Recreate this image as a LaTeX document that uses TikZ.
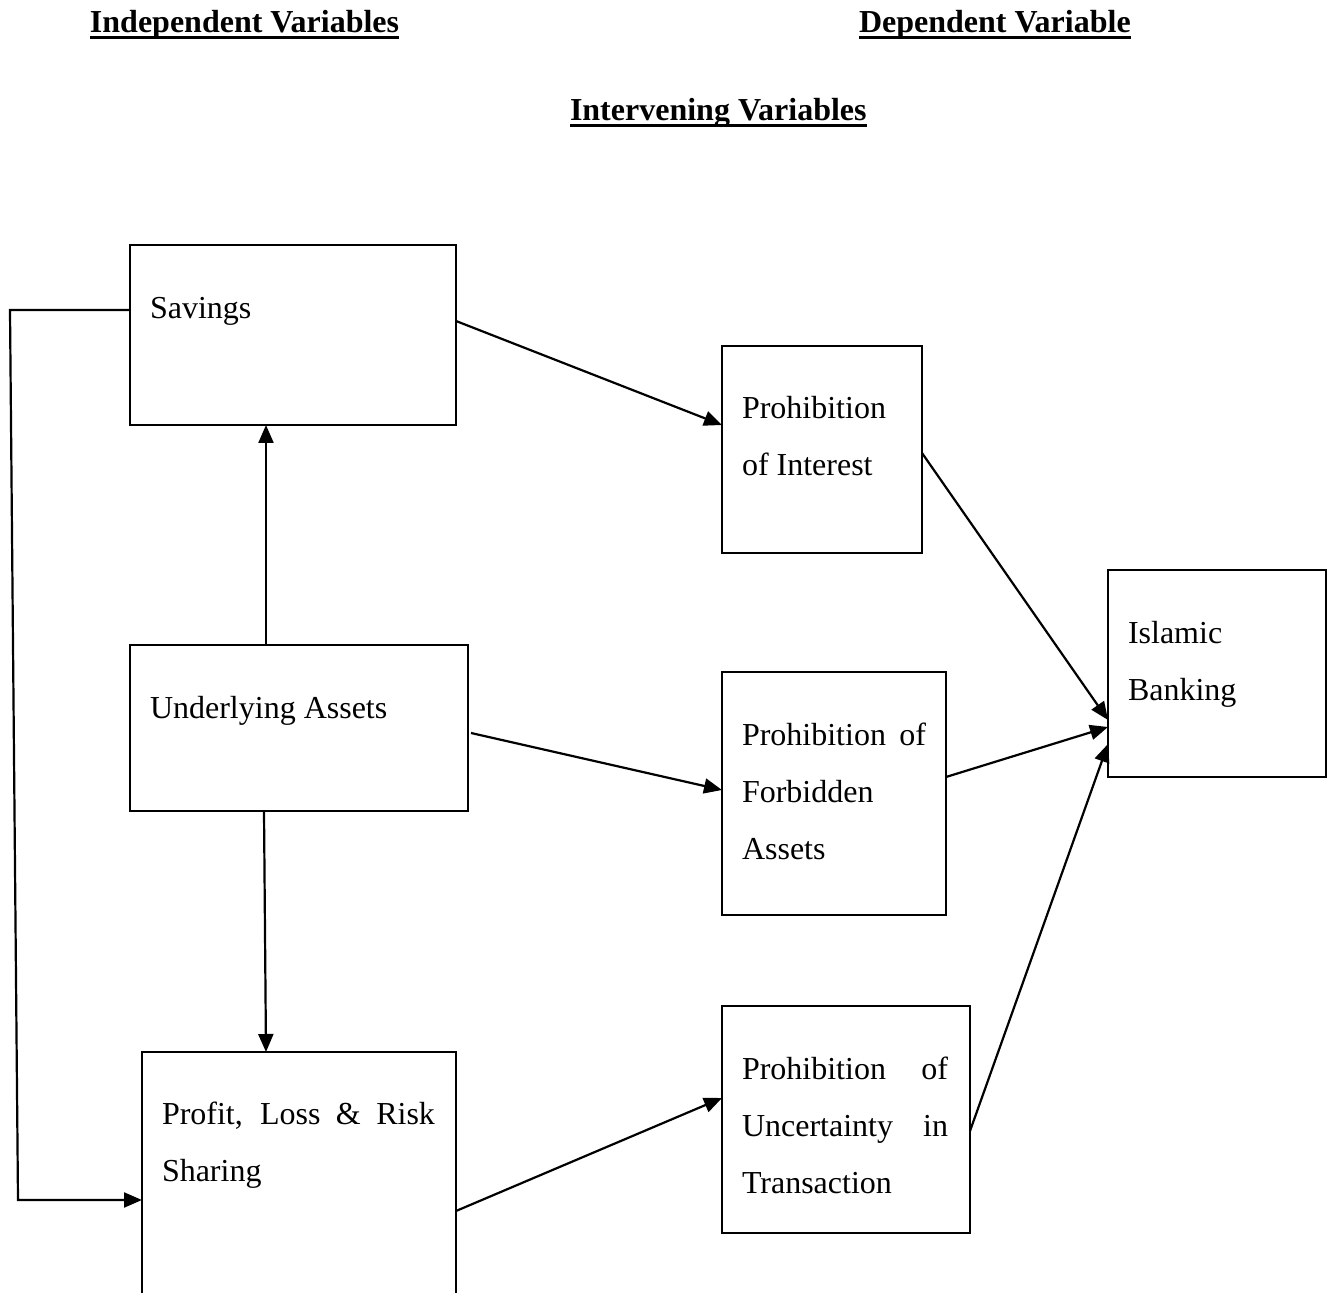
\documentclass[tikz,border=0pt]{standalone}
\usepackage{fontspec}
\setmainfont{Liberation Serif}
\usetikzlibrary{arrows.meta,calc}
\newcommand\myul[1]{\setbox0\hbox{#1}\rlap{\rule[-3.2pt]{\wd0}{1.8pt}}\box0}
\newcommand\mylines[1]{\parbox[t]{160pt}{\raggedright #1}}
\begin{document}
\begin{tikzpicture}[x=0.5pt, y=-0.5pt,
  font=\fontsize{16}{28.5}\selectfont,
  box/.style={draw, line width=1.1pt, inner sep=0pt, outer sep=0pt},
  txt/.style={anchor=base west, inner sep=0pt, outer sep=0pt},
  titletxt/.style={anchor=base west, inner sep=0pt, outer sep=0pt, font=\fontsize{16}{19}\selectfont\bfseries},
  conn/.style={line width=1.1pt, -{Triangle[length=9pt,width=7.5pt]}}]
\useasboundingbox (0,0) rectangle (1335,1293);

% titles
\node[titletxt] (tInd) at (90,33) {\myul{Independent Variables}};
\node[titletxt] (tDep) at (859,33) {\myul{Dependent Variable}};
\node[titletxt] (tInt) at (570,121) {\myul{Intervening Variables}};

% boxes
\node[box, minimum width=163pt, minimum height=90pt] (savings) at (293,335) {};
\node[box, minimum width=169pt, minimum height=83pt] (under) at (299,728) {};
\node[inner sep=0pt, outer sep=0pt, minimum width=157pt, minimum height=120.5pt] (profit) at (299,1172.5) {};
\draw[line width=1.1pt] (profit.south west) |- (profit.north east) -- (profit.south east);
\node[box, minimum width=100pt, minimum height=103.5pt] (interest) at (822,449.5) {};
\node[box, minimum width=112pt, minimum height=121.5pt] (forbidden) at (834,793.5) {};
\node[box, minimum width=124pt, minimum height=113.5pt] (uncert) at (846,1119.5) {};
\node[box, minimum width=109pt, minimum height=103.5pt] (islamic) at (1217,673.5) {};

% texts
\node[txt] (savingsT) at (150,319) {Savings};
\node[txt] (underT) at (150,719) {Underlying Assets};
\node[txt] (profitT) at (162,1125) {\mylines{\makebox[136.5pt][s]{Profit, Loss \& Risk}\\Sharing}};
\node[txt] (interestT) at (742,419) {\mylines{Prohibition\\of Interest}};
\node[txt] (forbiddenT) at (742,746) {\mylines{\makebox[92pt][s]{Prohibition of}\\Forbidden\\Assets}};
\node[txt] (uncertT) at (742,1080) {\mylines{\makebox[103pt][s]{Prohibition of}\\\makebox[103pt][s]{Uncertainty in}\\Transaction}};
\node[txt] (islamicT) at (1128,644) {\mylines{Islamic\\Banking}};

% connectors
\coordinate (fbA) at (10,310);
\coordinate (fbB) at (18,1200);
\draw[conn] ($(savings.east)+(0,-14)$) -- ($(interest.west)+(0,-24.5)$);
\draw[conn] ($(under.north)+(-33,0)$) -- ($(savings.south)+(-27,0)$);
\draw[conn] ($(under.south)+(-35,0)$) -- ($(profit.north)+(-33,0)$);
\draw[conn] ($(under.east)+(3,5)$) -- ($(forbidden.west)+(0,-3.5)$);
\draw[conn] ($(profit.east)+(0,38.5)$) -- ($(uncert.west)+(0,-21.5)$);
\draw[conn] ($(savings.west)+(0,-25)$) -- (fbA) -- (fbB) -- ($(profit.west)+(0,27.5)$);
\draw[conn] ($(interest.east)+(0,3.5)$) -- ($(islamic.west)+(0,46.5)$);
\draw[conn] ($(forbidden.east)+(0,-16.5)$) -- ($(islamic.west)+(0,53.5)$);
\draw[conn] ($(uncert.east)+(0,11.5)$) -- ($(islamic.west)+(0,70.5)$);
\end{tikzpicture}
\end{document}
